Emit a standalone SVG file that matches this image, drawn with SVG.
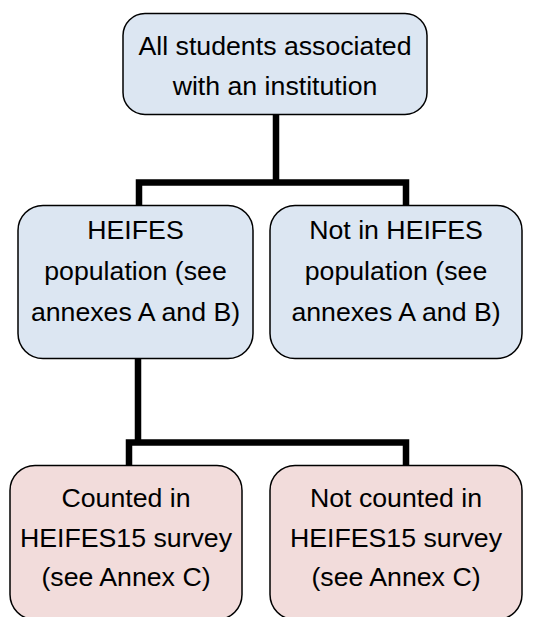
<svg xmlns="http://www.w3.org/2000/svg" width="533" height="617" viewBox="0 0 533 617">
  <style>
    .blue { fill: #dce6f2; stroke: #000; stroke-width: 1.5; }
    .pink { fill: #f2dcdb; stroke: #000; stroke-width: 1.5; }
    .label { font-family: "Liberation Sans", Arial, sans-serif; font-size: 26.7px; fill: #000; text-anchor: middle; }
    .wire { fill: none; stroke: #000; stroke-width: 6.5; stroke-linejoin: miter; stroke-linecap: butt; }
  </style>
  <rect width="533" height="617" fill="#fff"/>

  <!-- tree connectors -->
  <g id="connectors">
    <path class="wire" d="M276 114 V182.5 M139 205 V182.5 H406 V205"/>
    <path class="wire" d="M138 358 V442.5 M129 465 V442.5 H406 V465"/>
  </g>

  <g id="all-students">
    <rect class="blue" x="123" y="13.5" width="304" height="101" rx="22" ry="22"/>
    <text class="label" x="275" y="55">All students associated</text>
    <text class="label" x="275" y="95">with an institution</text>
  </g>

  <g id="heifes-population">
    <rect class="blue" x="18" y="205.5" width="235" height="153" rx="25" ry="25"/>
    <text class="label" x="135.5" y="238.5">HEIFES</text>
    <text class="label" x="135.5" y="279.5">population (see</text>
    <text class="label" x="135.5" y="320.5">annexes A and B)</text>
  </g>

  <g id="not-in-heifes">
    <rect class="blue" x="270" y="205.5" width="252" height="153" rx="25" ry="25"/>
    <text class="label" x="396" y="238.5">Not in HEIFES</text>
    <text class="label" x="396" y="279.5">population (see</text>
    <text class="label" x="396" y="320.5">annexes A and B)</text>
  </g>

  <g id="counted">
    <rect class="pink" x="10" y="465.5" width="232" height="154" rx="25" ry="25"/>
    <text class="label" x="126" y="507">Counted in</text>
    <text class="label" x="126" y="547">HEIFES15 survey</text>
    <text class="label" x="126" y="586">(see Annex C)</text>
  </g>

  <g id="not-counted">
    <rect class="pink" x="270" y="465.5" width="252" height="154" rx="25" ry="25"/>
    <text class="label" x="396" y="507">Not counted in</text>
    <text class="label" x="396" y="547">HEIFES15 survey</text>
    <text class="label" x="396" y="586">(see Annex C)</text>
  </g>
</svg>
